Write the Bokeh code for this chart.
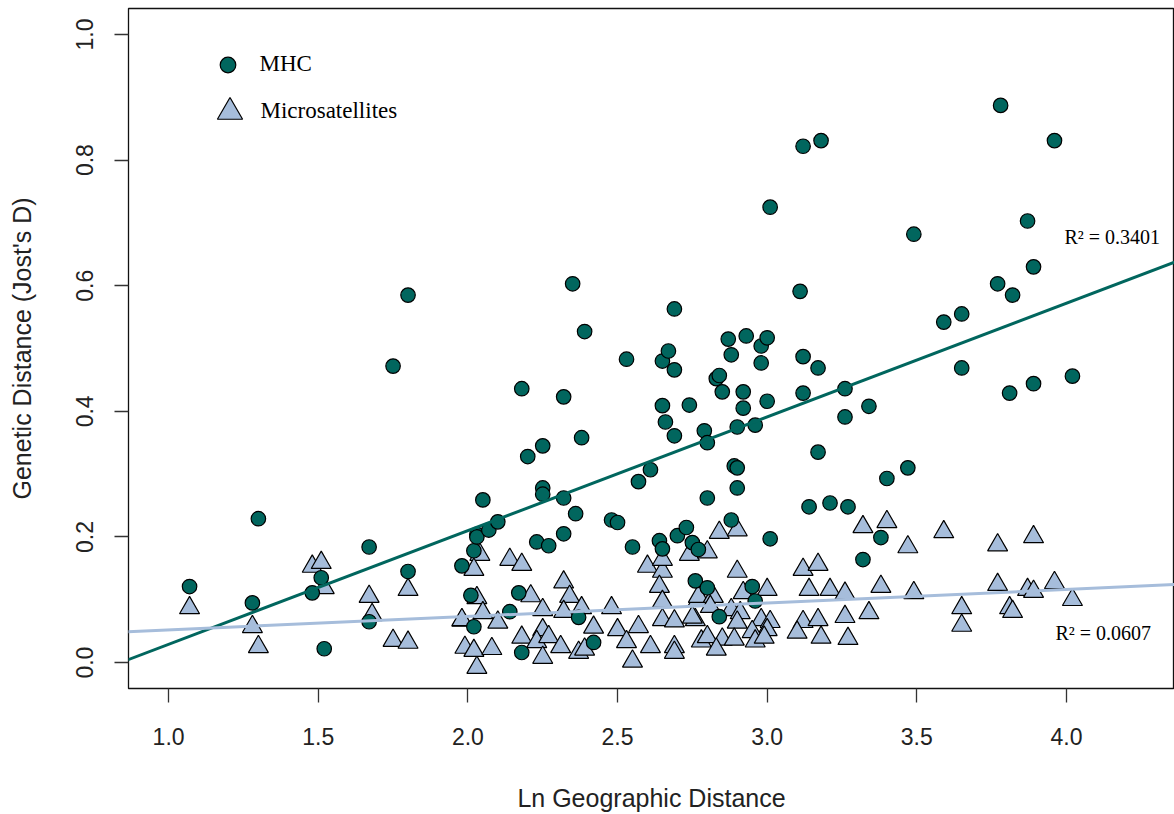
from bokeh.plotting import figure
from bokeh.models import (Range1d, FixedTicker, NumeralTickFormatter, Legend, LegendItem,
                          Label, Slope)
from bokeh.embed import file_html
from bokeh.resources import INLINE

# ---------------- data ----------------
mhc_x = [1.07, 1.28, 1.30, 1.48, 1.51, 1.52, 1.67, 1.67, 1.75, 1.80, 1.80,
         1.98, 2.01, 2.02, 2.02, 2.03, 2.03, 2.05, 2.07, 2.10, 2.14, 2.17, 2.18, 2.18,
         2.20, 2.23, 2.25, 2.25, 2.25, 2.27, 2.32, 2.32, 2.32, 2.35, 2.36, 2.37, 2.38,
         2.39, 2.42, 2.48, 2.50, 2.53, 2.55, 2.57, 2.61, 2.64, 2.65, 2.65, 2.65, 2.66,
         2.67, 2.69, 2.69, 2.69, 2.70, 2.73, 2.74, 2.75, 2.76, 2.77, 2.79, 2.80, 2.80,
         2.80, 2.83, 2.84, 2.84, 2.85, 2.87, 2.88, 2.88, 2.89, 2.90, 2.90, 2.90, 2.92,
         2.92, 2.93, 2.95, 2.96, 2.96, 2.98, 2.98, 3.00, 3.00, 3.01, 3.01, 3.11, 3.12,
         3.12, 3.12, 3.14, 3.17, 3.17, 3.18, 3.21, 3.26, 3.26, 3.27, 3.32, 3.34, 3.38,
         3.40, 3.47, 3.49, 3.59, 3.65, 3.65, 3.77, 3.78, 3.81, 3.82, 3.87, 3.89, 3.89,
         3.96, 4.02]
mhc_y = [0.121, 0.095, 0.229, 0.111, 0.135, 0.022, 0.184, 0.065, 0.472, 0.585, 0.145,
         0.154, 0.107, 0.178, 0.057, 0.204, 0.200, 0.259, 0.211, 0.224, 0.081, 0.111, 0.016, 0.436,
         0.328, 0.192, 0.345, 0.278, 0.268, 0.186, 0.262, 0.205, 0.423, 0.603, 0.237, 0.072, 0.358,
         0.527, 0.032, 0.227, 0.223, 0.483, 0.184, 0.288, 0.307, 0.194, 0.181, 0.409, 0.480, 0.383,
         0.496, 0.361, 0.466, 0.563, 0.202, 0.215, 0.410, 0.191, 0.130, 0.180, 0.369, 0.350, 0.262,
         0.119, 0.452, 0.457, 0.073, 0.431, 0.515, 0.490, 0.227, 0.313, 0.310, 0.375, 0.278, 0.431,
         0.405, 0.520, 0.121, 0.378, 0.098, 0.504, 0.477, 0.517, 0.416, 0.725, 0.197, 0.591, 0.822,
         0.487, 0.429, 0.248, 0.469, 0.335, 0.831, 0.254, 0.436, 0.391, 0.248, 0.164, 0.408, 0.199,
         0.293, 0.310, 0.682, 0.542, 0.555, 0.469, 0.603, 0.887, 0.429, 0.585, 0.703, 0.630, 0.444,
         0.831, 0.456]

msat_x = [1.07, 1.28, 1.30, 1.48, 1.51, 1.52, 1.67, 1.68, 1.75, 1.80, 1.80, 1.98, 1.99,
          2.04, 2.02, 2.14, 2.18, 2.03, 2.21, 2.32, 2.34, 2.25, 2.32, 2.38, 1.98, 2.05, 2.10,
          2.25, 2.18, 2.23, 2.27, 2.31, 2.37, 2.39, 2.42, 2.48, 2.50, 2.53, 2.57, 2.61, 2.55,
          2.25, 2.03, 2.02, 2.08, 2.60, 2.65, 2.64, 2.65, 2.65, 2.69, 2.69, 2.69, 2.74, 2.76,
          2.77, 2.65, 2.84, 2.90, 3.40, 3.32, 3.59, 3.47, 2.80, 2.90, 3.12, 3.17, 3.14, 3.21,
          3.26, 3.38, 3.49, 3.00, 2.92, 2.77, 2.82, 2.75, 2.81, 2.88, 2.91, 2.98, 3.01, 3.00,
          2.95, 2.90, 3.12, 3.17, 3.10, 3.26, 3.34, 3.18, 3.27, 2.78, 2.85, 2.89, 2.80, 2.83,
          2.96, 2.99, 3.77, 3.89, 3.77, 3.87, 3.89, 3.96, 4.02, 3.65, 3.65, 3.81, 3.82]
msat_y = [0.087, 0.057, 0.025, 0.153, 0.159, 0.119, 0.105, 0.076, 0.035, 0.032, 0.116, 0.067, 0.024,
          0.172, 0.148, 0.164, 0.156, 0.103, 0.106, 0.128, 0.105, 0.084, 0.081, 0.087, 0.068, 0.079, 0.064,
          0.052, 0.040, 0.033, 0.041, 0.025, 0.016, 0.021, 0.056, 0.087, 0.052, 0.033, 0.057, 0.025, 0.002,
          0.008, -0.008, 0.019, 0.022, 0.153, 0.145, 0.121, 0.097, 0.068, 0.066, 0.025, 0.016, 0.172, 0.068,
          0.100, 0.164, 0.207, 0.211, 0.224, 0.216, 0.208, 0.184, 0.176, 0.145, 0.148, 0.156, 0.116, 0.116,
          0.110, 0.121, 0.111, 0.116, 0.111, 0.105, 0.105, 0.072, 0.089, 0.084, 0.079, 0.068, 0.065, 0.052,
          0.049, 0.064, 0.065, 0.068, 0.048, 0.073, 0.079, 0.040, 0.038, 0.034, 0.037, 0.037, 0.041, 0.021,
          0.034, 0.040, 0.187, 0.200, 0.124, 0.116, 0.113, 0.127, 0.100, 0.087, 0.059, 0.087, 0.081]

# fitted regression lines (intercept, slope) and their R^2 labels
mhc_fit = [-0.152, 0.181]
msat_fit = [0.0304, 0.0215]
r2_labels = ["R\u00b2 = 0.3401", "R\u00b2 = 0.0607"]
series_names = ["MHC", "Microsatellites"]

x_ticks = [1.0, 1.5, 2.0, 2.5, 3.0, 3.5, 4.0]
y_ticks = [0.0, 0.2, 0.4, 0.6, 0.8, 1.0]

MHC_COL = "#01665E"
MSAT_COL = "#A6BDDB"
NAN = float("nan")

# ---------------- figure ----------------
p = figure(width=1174, height=814, output_backend="svg", toolbar_location=None,
           x_range=Range1d(0.866, 4.361), y_range=Range1d(-0.0413, 1.0413),
           min_border_left=128, min_border_right=0, min_border_top=8, min_border_bottom=125,
           x_axis_label="Ln Geographic Distance", y_axis_label="Genetic Distance (Jost's D)")
p.grid.visible = False
p.background_fill_color = "white"
p.border_fill_color = "white"
p.outline_line_color = "#111111"
p.outline_line_width = 1.3

for ax in (p.xaxis[0], p.yaxis[0]):
    ax.axis_line_color = None
    ax.major_tick_out = 14
    ax.major_tick_in = 0
    ax.minor_tick_line_color = None
    ax.major_tick_line_color = "#333333"
    ax.major_tick_line_width = 1.3
    ax.major_label_text_font = "Liberation Sans"
    ax.major_label_text_font_size = "23px"
    ax.major_label_text_color = "#222222"
    ax.axis_label_text_font = "Liberation Sans"
    ax.axis_label_text_font_size = "25px"
    ax.axis_label_text_font_style = "normal"
    ax.axis_label_text_color = "#222222"

p.xaxis[0].ticker = FixedTicker(ticks=x_ticks)
p.yaxis[0].ticker = FixedTicker(ticks=y_ticks)
p.xaxis[0].formatter = NumeralTickFormatter(format="0.0")
p.yaxis[0].formatter = NumeralTickFormatter(format="0.0")
p.yaxis[0].major_label_orientation = "vertical"
p.xaxis[0].major_label_standoff = 25
p.xaxis[0].axis_label_standoff = 36
p.yaxis[0].major_label_standoff = 21
p.yaxis[0].axis_label_standoff = 38

r_msat = p.scatter(msat_x, msat_y, marker="triangle", size=20, fill_color=MSAT_COL,
                   line_color="black", line_width=1.2)
r_mhc = p.scatter(mhc_x, mhc_y, marker="circle", size=14.5, fill_color=MHC_COL,
                  line_color="black", line_width=1.2)

p.add_layout(Slope(gradient=mhc_fit[1], y_intercept=mhc_fit[0], line_color=MHC_COL, line_width=3))
p.add_layout(Slope(gradient=msat_fit[1], y_intercept=msat_fit[0], line_color=MSAT_COL, line_width=3))

# legend-only renderers with larger markers (a NaN point draws nothing in the plot)
leg_mhc = p.scatter([NAN], [NAN], marker="circle", size=15.6, fill_color=MHC_COL,
                    line_color="black", line_width=1.2)
leg_msat = p.scatter([NAN], [NAN], marker="triangle", size=25, fill_color=MSAT_COL,
                     line_color="black", line_width=1.2)

def make_legend(name, rend, gsize, loc, standoff):
    lg = Legend(items=[LegendItem(label=name, renderers=[rend], index=0)], location=loc,
                glyph_width=gsize, glyph_height=gsize, label_standoff=standoff,
                label_text_font="Liberation Serif", label_text_font_size="23px",
                label_text_color="black", border_line_color=None, background_fill_alpha=0,
                padding=0, margin=0, spacing=0)
    p.add_layout(lg)

make_legend(series_names[0], leg_mhc, 39, (79.5, 604.5), 13)
make_legend(series_names[1], leg_msat, 63, (69.5, 545.5), 0)

for txt, (lx, ly) in zip(r2_labels, [(936, 452), (927, 56)]):
    p.add_layout(Label(x=lx, y=ly, x_units="screen", y_units="screen", text=txt,
                       text_font="Liberation Serif", text_font_size="20px",
                       text_baseline="middle", text_color="black"))

open("out.html", "w").write(file_html(p, INLINE))
